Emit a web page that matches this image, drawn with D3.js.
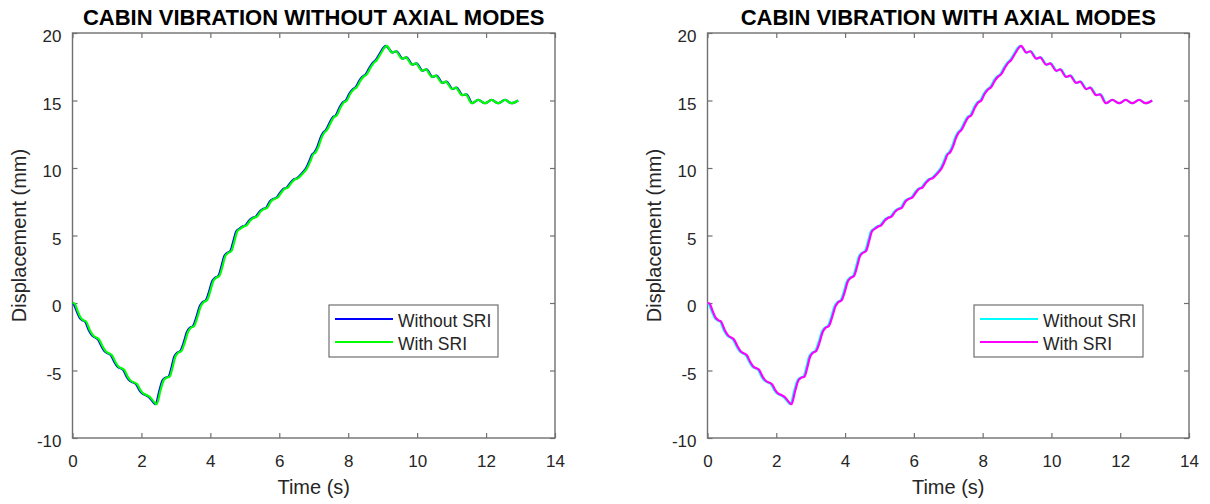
<!DOCTYPE html>
<html>
<head>
<meta charset="utf-8">
<script src="https://cdn.jsdelivr.net/npm/d3@7"></script>
<style>
  body { margin: 0; background: #fff; }
  svg { display: block; font-family: "Liberation Sans", Arial, Helvetica, sans-serif; }
</style>
</head>
<body>
<div id="grafico"></div>
<script>
// tiempos (s)
const timeWithSRI = [
  0, 0.06, 0.15, 0.24, 0.32, 0.4, 0.5, 0.6, 0.68, 0.77, 0.87, 0.97, 1.05, 1.14, 1.24, 1.33, 1.41, 1.5, 1.6, 1.7,
  1.78, 1.87, 1.97, 2.06, 2.15, 2.24, 2.34, 2.44,
  2.55, 2.64, 2.72, 2.82, 2.9, 2.98, 3.06, 3.16, 3.26, 3.35, 3.43, 3.53, 3.63, 3.72, 3.8, 3.9, 4.0, 4.08, 4.16, 4.26,
  4.35, 4.43, 4.51, 4.61, 4.7, 4.78, 4.87, 4.95,
  5.05, 5.15, 5.25, 5.35, 5.45, 5.55, 5.65, 5.75, 5.85, 5.95, 6.05, 6.15, 6.25, 6.35, 6.45, 6.55, 6.65, 6.72, 6.8,
  6.9, 6.98, 7.05, 7.14, 7.22, 7.3, 7.38, 7.5, 7.58, 7.67, 7.78, 7.87, 7.96, 8.06, 8.15, 8.25, 8.35, 8.44, 8.54, 8.64,
  8.73, 8.83, 8.95, 9.05, 9.12,
  9.27, 9.38, 9.56, 9.67, 9.85, 9.96, 10.14, 10.25, 10.43, 10.54, 10.72, 10.83, 11.01, 11.12, 11.3, 11.41, 11.58,
  11.77, 11.97, 12.16, 12.35, 12.55, 12.74, 12.93
];

const timeWithoutSRI = [
  0, 0.03, 0.12, 0.21, 0.29, 0.37, 0.47, 0.57, 0.65, 0.74, 0.84, 0.94, 1.02, 1.11, 1.21, 1.30, 1.38, 1.47, 1.57, 1.67,
  1.75, 1.84, 1.94, 2.03, 2.12, 2.21, 2.31, 2.41,
  2.52, 2.61, 2.69, 2.79, 2.87, 2.95, 3.03, 3.13, 3.23, 3.32, 3.40, 3.50, 3.60, 3.69, 3.77, 3.87, 3.97, 4.05, 4.13, 4.23,
  4.32, 4.40, 4.48, 4.58, 4.67, 4.75, 4.84, 4.92,
  5.02, 5.12, 5.22, 5.32, 5.42, 5.52, 5.62, 5.72, 5.82, 5.92, 6.02, 6.12, 6.22, 6.32, 6.42, 6.52, 6.62, 6.69, 6.77,
  6.87, 6.95, 7.02, 7.11, 7.19, 7.27, 7.35, 7.47, 7.55, 7.64, 7.75, 7.84, 7.93, 8.03, 8.12, 8.22, 8.32, 8.41, 8.51, 8.61,
  8.70, 8.80, 8.92, 9.02, 9.09,
  9.29, 9.40, 9.58, 9.69, 9.87, 9.98, 10.16, 10.27, 10.45, 10.56, 10.74, 10.85, 11.03, 11.14, 11.32, 11.43, 11.60,
  11.77, 11.97, 12.16, 12.35, 12.55, 12.74, 12.93
];

// desplazamiento (mm)
const displacement = [
  0, -0.05, -0.6, -1.1, -1.28, -1.4, -2.0, -2.4, -2.55, -2.7, -3.2, -3.6, -3.72, -3.85, -4.35, -4.7, -4.82, -4.95, -5.45, -5.78,
  -5.88, -6.0, -6.45, -6.72, -6.82, -6.95, -7.25, -7.5,
  -6.5, -5.75, -5.55, -5.45, -4.8, -4.0, -3.7, -3.55, -2.9, -2.15, -1.85, -1.7, -1.0, -0.25, 0.05, 0.2, 0.9, 1.6, 1.85, 2.0,
  2.7, 3.45, 3.7, 3.85, 4.6, 5.3, 5.5, 5.65,
  5.75, 6.1, 6.3, 6.4, 6.75, 6.95, 7.05, 7.5, 7.7, 7.8, 8.15, 8.45, 8.55, 8.9, 9.15, 9.25, 9.5, 9.7, 9.95,
  10.5, 11.0, 11.15, 11.6, 12.2, 12.6, 12.8, 13.4, 13.75, 13.9, 14.5, 14.85, 15.0, 15.5, 15.8, 16.0, 16.45, 16.75, 16.95, 17.4,
  17.75, 18.0, 18.5, 18.9, 19.05,
  18.55, 18.65, 18.1, 18.2, 17.65, 17.75, 17.2, 17.3, 16.75, 16.85, 16.3, 16.4, 15.85, 15.95, 15.4, 15.45, 14.8,
  15.05, 14.8, 15.05, 14.8, 15.05, 14.8, 15.0
];

const xTicks = [0, 2, 4, 6, 8, 10, 12, 14];
const yTicks = [-10, -5, 0, 5, 10, 15, 20];
const seriesNames = ["Without SRI", "With SRI"];
const titles = ["CABIN VIBRATION WITHOUT AXIAL MODES", "CABIN VIBRATION WITH AXIAL MODES"];

const svg = d3.select("#grafico")
    .append("svg")
    .attr("width", 1210)
    .attr("height", 504);

svg.append("rect").attr("width", 1210).attr("height", 504).attr("fill", "#fff");

function dibujarPanel(cfg) {
    const top = 33, bottom = 438;
    const x = d3.scaleLinear().domain([0, 14]).range([cfg.left, cfg.right]);
    const y = d3.scaleLinear().domain([-10, 20]).range([bottom, top]);
    const g = svg.append("g");

    const axisColor = "#707070";
    const textColor = "#262626";
    const etiqueta = d => String(d); // guion normal, como en la figura

    const ejeX = g.append("g")
        .attr("transform", `translate(0, ${bottom})`)
        .call(d3.axisBottom(x).tickValues(xTicks).tickFormat(etiqueta).tickSize(-5).tickPadding(17));
    ejeX.selectAll("text").attr("font-size", "17px").attr("fill", textColor)
        .attr("font-family", "Liberation Sans, Arial, sans-serif");

    const ejeY = g.append("g")
        .attr("transform", `translate(${cfg.left}, 0)`)
        .call(d3.axisLeft(y).tickValues(yTicks).tickFormat(etiqueta).tickSize(-5).tickPadding(11));
    ejeY.selectAll("text").attr("font-size", "17px").attr("fill", textColor)
        .attr("dy", "0.5em")
        .attr("font-family", "Liberation Sans, Arial, sans-serif");

    const ejeTop = g.append("g")
        .attr("transform", `translate(0, ${top})`)
        .call(d3.axisTop(x).tickValues(xTicks).tickSize(-5).tickFormat(""));
    const ejeRight = g.append("g")
        .attr("transform", `translate(${cfg.right}, 0)`)
        .call(d3.axisRight(y).tickValues(yTicks).tickSize(-5).tickFormat(""));

    [ejeX, ejeY, ejeTop, ejeRight].forEach(eje => {
        eje.select(".domain").remove();
        eje.selectAll(".tick line").attr("stroke", axisColor).attr("stroke-width", 1.2);
    });

    g.append("rect")
        .attr("x", cfg.left)
        .attr("y", top)
        .attr("width", cfg.right - cfg.left)
        .attr("height", bottom - top)
        .attr("fill", "none")
        .attr("stroke", axisColor)
        .attr("stroke-width", 1.4);

    // curvas
    const linea = tiempos => d3.line()
        .x((d, i) => x(tiempos[i]))
        .y(d => y(d))
        .curve(d3.curveMonotoneX);

    g.append("path")
        .datum(displacement)
        .attr("d", linea(timeWithoutSRI))
        .attr("fill", "none")
        .attr("stroke", cfg.colors[0])
        .attr("stroke-width", 2.2);

    g.append("path")
        .datum(displacement)
        .attr("d", linea(timeWithSRI))
        .attr("fill", "none")
        .attr("stroke", cfg.colors[1])
        .attr("stroke-width", 2.2);

    // titulo y etiquetas
    g.append("text")
        .attr("x", (cfg.left + cfg.right) / 2)
        .attr("y", 25)
        .attr("text-anchor", "middle")
        .attr("font-size", "22px")
        .attr("font-weight", "bold")
        .attr("fill", "#000")
        .text(cfg.title);

    g.append("text")
        .attr("x", (cfg.left + cfg.right) / 2)
        .attr("y", 494)
        .attr("text-anchor", "middle")
        .attr("font-size", "20px")
        .attr("fill", textColor)
        .text("Time (s)");

    g.append("text")
        .attr("transform", `translate(${cfg.left - 47}, ${(top + bottom) / 2}) rotate(-90)`)
        .attr("text-anchor", "middle")
        .attr("font-size", "20px")
        .attr("fill", textColor)
        .text("Displacement (mm)");

    // leyenda
    const ley = g.append("g").attr("transform", `translate(${cfg.legendX}, 305)`);
    ley.append("rect")
        .attr("width", 169)
        .attr("height", 52)
        .attr("fill", "#fff")
        .attr("stroke", axisColor)
        .attr("stroke-width", 1.2);

    seriesNames.forEach((nombre, i) => {
        const yy = 14 + i * 23;
        ley.append("line")
            .attr("x1", 6).attr("x2", 64)
            .attr("y1", yy).attr("y2", yy)
            .attr("stroke", cfg.colors[i])
            .attr("stroke-width", 2.2);
        ley.append("text")
            .attr("x", 69)
            .attr("y", yy + 8)
            .attr("font-size", "17.5px")
            .attr("fill", textColor)
            .text(nombre);
    });
}

dibujarPanel({ left: 72.5, right: 555, title: titles[0], legendX: 329, colors: ["#0000ff", "#00ff00"] });
dibujarPanel({ left: 707.5, right: 1189, title: titles[1], legendX: 974, colors: ["#00ffff", "#ff00ff"] });
</script>
</body>
</html>
